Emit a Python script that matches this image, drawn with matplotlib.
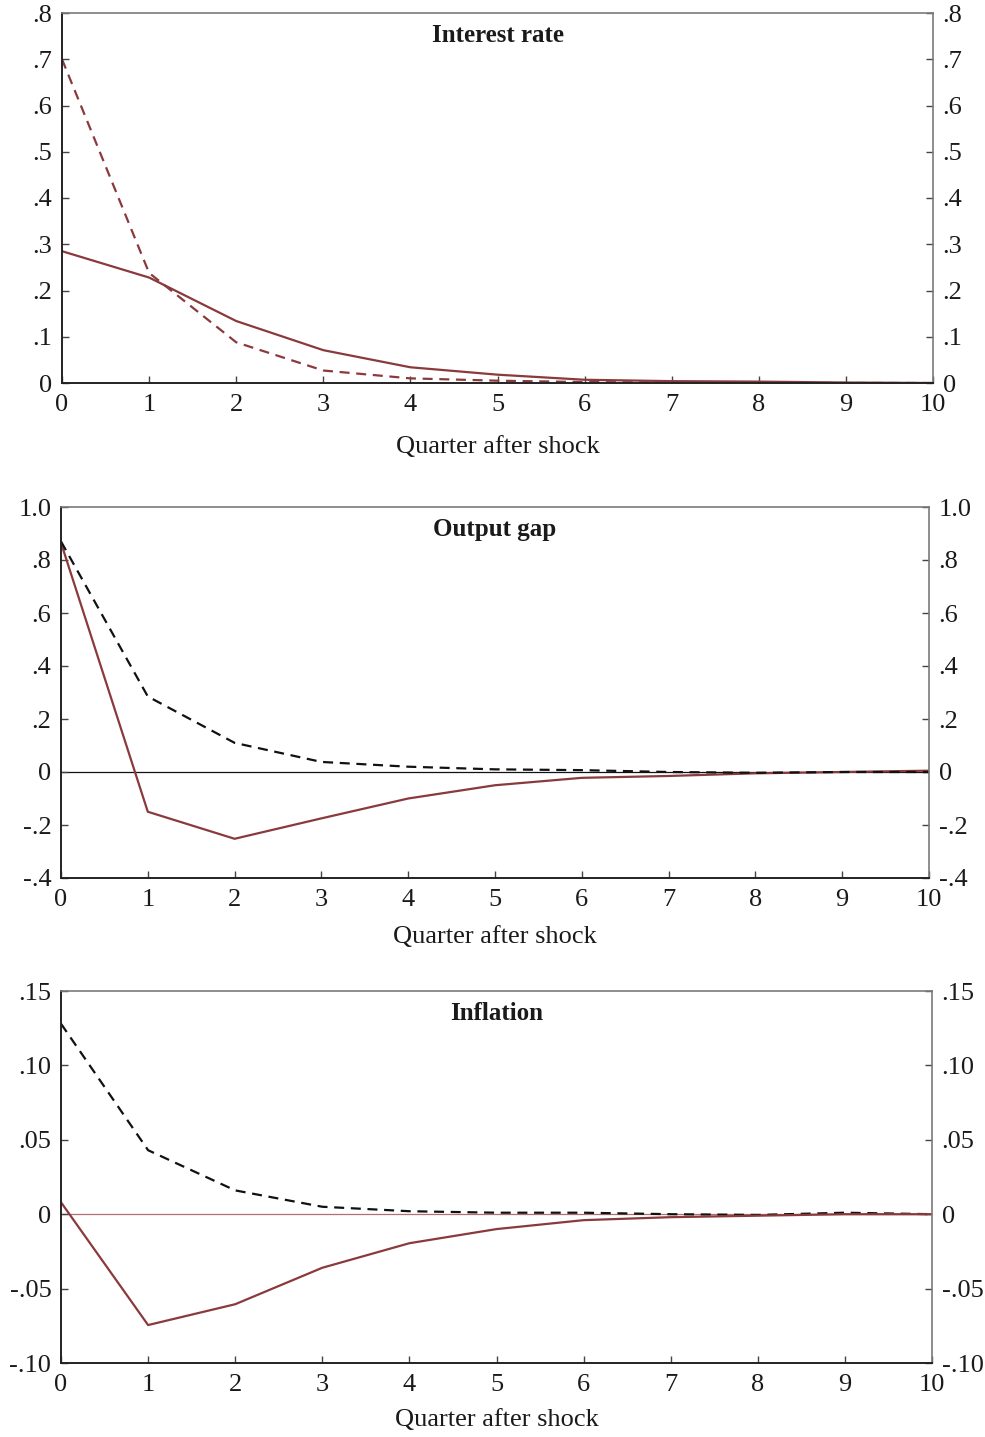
import matplotlib
matplotlib.use("Agg")
import matplotlib.pyplot as plt

quarters = [0, 1, 2, 3, 4, 5, 6, 7, 8, 9, 10]

# Interest rate
rate_solid = [0.285, 0.228, 0.134, 0.071, 0.034, 0.018, 0.007, 0.004, 0.003, 0.001, 0.0]
rate_dashed = [0.700, 0.238, 0.088, 0.027, 0.010, 0.005, 0.002, 0.001, 0.0, 0.0, 0.0]

# Output gap
gap_solid = [0.865, -0.150, -0.252, -0.175, -0.100, -0.050, -0.022, -0.015, -0.005, 0.0, 0.005]
gap_dashed = [0.870, 0.285, 0.110, 0.038, 0.020, 0.010, 0.007, 0.0, -0.003, 0.0, 0.0]

# Inflation
infl_solid = [0.008, -0.0745, -0.0605, -0.036, -0.0195, -0.010, -0.004, -0.002, -0.001, 0.0, 0.0]
infl_dashed = [0.128, 0.043, 0.016, 0.005, 0.002, 0.001, 0.001, 0.0, -0.0005, 0.001, 0.0]

titles = ["Interest rate", "Output gap", "Inflation"]
xlabel = "Quarter after shock"

rate_ticks = [0, 0.1, 0.2, 0.3, 0.4, 0.5, 0.6, 0.7, 0.8]
rate_labels = ["0", ".1", ".2", ".3", ".4", ".5", ".6", ".7", ".8"]
gap_ticks = [-0.4, -0.2, 0, 0.2, 0.4, 0.6, 0.8, 1.0]
gap_labels = ["-.4", "-.2", "0", ".2", ".4", ".6", ".8", "1.0"]
infl_ticks = [-0.10, -0.05, 0, 0.05, 0.10, 0.15]
infl_labels = ["-.10", "-.05", "0", ".05", ".10", ".15"]

plt.rcParams['font.family'] = ['Liberation Serif', 'DejaVu Serif']

RED = "#8a3a3c"
BLACK = "#111111"

fig = plt.figure(figsize=(9.85, 14.37), dpi=100)
W, H = 985.0, 1437.0

def make_ax(l, r, t, b):
    return fig.add_axes([l / W, 1 - b / H, (r - l) / W, (b - t) / H])

ax1 = make_ax(62, 933, 13, 383)
ax2 = make_ax(61, 929, 507, 878)
ax3 = make_ax(61, 932, 991, 1363)

dash = (0, (4.5, 3))

ax1.plot(quarters, rate_solid, color=RED, lw=1.6)
ax1.plot(quarters, rate_dashed, color=RED, lw=1.6, linestyle=dash)

ax2.axhline(0, color=BLACK, lw=0.9, zorder=1)
ax2.plot(quarters, gap_solid, color=RED, lw=1.6)
ax2.plot(quarters, gap_dashed, color=BLACK, lw=1.6, linestyle=dash)

ax3.axhline(0, color="#b07070", lw=0.9, zorder=1)
ax3.plot(quarters, infl_dashed, color=BLACK, lw=1.6, linestyle=dash)
ax3.plot(quarters, infl_solid, color=RED, lw=1.6)

specs = [
    (ax1, (0, 0.8), rate_ticks, rate_labels, 370, 64),
    (ax2, (-0.4, 1.0), gap_ticks, gap_labels, 371, 59),
    (ax3, (-0.10, 0.15), infl_ticks, infl_labels, 372, 57),
]

FS = 19

for (ax, ylim, ticks, labels, hpx, xlab_off), title in zip(specs, titles):
    ax.set_xlim(0, 10)
    ax.set_ylim(*ylim)
    ax.set_xticks(quarters)
    ax.set_xticklabels([str(q) for q in quarters])
    ax.set_yticks(ticks)
    ax.set_yticklabels(labels)
    ax.tick_params(axis='x', direction='in', length=5, width=1, pad=8,
                   labelsize=FS, colors="#444444", labelcolor="#1a1a1a")
    ax.tick_params(axis='y', direction='in', length=5, width=1, pad=7,
                   labelsize=FS, left=True, right=True,
                   labelleft=True, labelright=True,
                   colors="#444444", labelcolor="#1a1a1a")
    for side in ['left', 'bottom']:
        ax.spines[side].set_color("#222222")
        ax.spines[side].set_linewidth(1.4)
    for side in ['top', 'right']:
        ax.spines[side].set_color("#7a7a7a")
        ax.spines[side].set_linewidth(1.2)
    ax.text(0.5, 1 - 22.0 / hpx, title, transform=ax.transAxes,
            ha='center', va='center', fontsize=18, fontweight='bold',
            color="#1a1a1a")
    ax.set_xlabel(xlabel, fontsize=FS, color="#1a1a1a", va='center')
    ax.xaxis.set_label_coords(0.5, -float(xlab_off) / hpx)

fig.savefig("out.png", dpi=100)
